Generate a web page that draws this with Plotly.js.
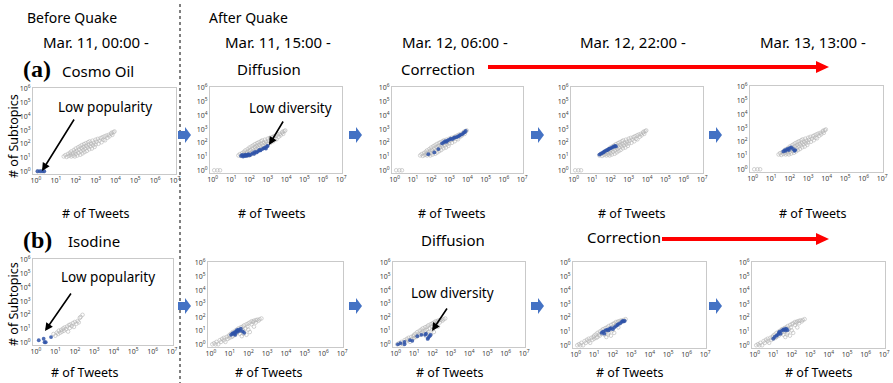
<!DOCTYPE html>
<html>
<head>
<meta charset="utf-8">
<script src="https://cdn.plot.ly/plotly-3.0.1.min.js"></script>
<style>html,body{margin:0;padding:0;background:#fff;}#chart{width:893px;height:383px;}</style>
</head>
<body>
<div id="chart"></div>
<script>
// ---------------- DATA ----------------
const tickValsX = [1, 10, 100, 1000, 10000, 100000, 1000000, 10000000];
const tickTextX = ['10<sup>0</sup>','10<sup>1</sup>','10<sup>2</sup>','10<sup>3</sup>','10<sup>4</sup>','10<sup>5</sup>','10<sup>6</sup>','10<sup>7</sup>'];
const tickValsY = [1, 10, 100, 1000, 10000, 100000, 1000000];
const tickTextY = ['10<sup>0</sup>','10<sup>1</sup>','10<sup>2</sup>','10<sup>3</sup>','10<sup>4</sup>','10<sup>5</sup>','10<sup>6</sup>'];

const periods = ['Mar. 11, 00:00 -','Mar. 11, 15:00 -','Mar. 12, 06:00 -','Mar. 12, 22:00 -','Mar. 13, 13:00 -'];

// (a) Cosmo Oil: all topics (gray)
const cosmoGrayTweets = [1.2,1.8,2.5,25,30,35,40,45,50,55,60,60,70,75,80,90,90,100,100,110,120,130,140,150,160,170,180,200,200,220,240,250,260,280,300,320,340,360,400,420,450,480,500,550,600,650,700,750,800,900,1000,1000,1100,1300,1400,1600,1800,2000,2200,2500,2800,3000,3500,4000,4500,5000,6000,6500,7000,8000,9000];
const cosmoGraySubtopics = [1,1,1,12,15,11,18,13,22,16,12,28,20,14,35,25,12,45,18,30,14,55,22,38,65,16,28,48,80,20,35,60,95,25,45,110,70,30,55,130,85,40,150,65,100,45,170,80,120,60,200,90,140,230,100,170,260,130,300,200,350,180,400,280,450,350,550,650,450,700,800];
// (a) highlighted (blue) per period
const cosmoBlueTweets0 = [1.2,1.6,2.1,2.6];
const cosmoBlueSubtopics0 = [1,1,1,1];
const cosmoBlueTweets1 = [35,40,45,50,55,60,65,70,80,90,100,120,150,180,200,250,300,350,400,500,600,700,800,900,1000];
const cosmoBlueSubtopics1 = [11,13,10,12,11,14,12,11,13,15,12,14,18,16,22,20,25,30,28,35,40,45,38,55,60];
const cosmoBlueTweets2 = [70,150,250,400,500,600,700,800,1000,1200,1500,1800,2000,2500,3000,3500,4000,5000,6000,7000,8000];
const cosmoBlueSubtopics2 = [15,20,35,90,110,130,120,150,170,200,190,230,250,260,300,320,380,420,520,600,750];
const cosmoBlueTweets3 = [25,30,35,40,45,50,60,70,80,90,100,120,140,160,180,200];
const cosmoBlueSubtopics3 = [14,16,18,20,22,25,28,30,35,38,40,45,50,55,60,55];
const cosmoBlueTweets4 = [45,55,60,70,80,90,100,120,150,180,200];
const cosmoBlueSubtopics4 = [20,25,22,28,30,25,35,40,30,22,25];

// (b) Isodine: before quake (gray)
const isoGrayTweets0 = [8,10,12,14,15,18,20,22,25,28,30,35,40,45,50,55,60,70,80,90,100,120,140,160,180,200,250];
const isoGraySubtopics0 = [4,3,5,4,7,5,8,6,10,7,12,9,14,6,18,11,20,15,25,13,30,22,35,28,60,70,100];
// (b) Isodine: after quake (gray)
const isoGrayTweets = [1.2,1.8,1.5,2,2.5,3,3.5,4,5,5,6,7,8,9,10,10,12,13,15,15,18,20,20,25,25,30,30,35,40,40,45,50,50,55,60,60,70,80,80,90,100,100,120,120,150,150,180,200,200,250,250,300,350,400,500];
const isoGraySubtopics = [1,1,1.2,1.5,1,2,1.5,2.5,2,3,1.5,3.5,2.5,4,3,5,6,3.5,8,4,6,10,5,12,7,9,15,6,18,10,4,20,12,6,25,8,15,30,5,20,35,12,40,8,30,50,45,55,20,60,40,65,55,70,80];
// (b) highlighted (blue) per period
const isoBlueTweets0 = [1.4,2.5,6,2.8,3.2];
const isoBlueSubtopics0 = [1.4,1.8,2.4,1,1];
const isoBlueTweets1 = [12,14,16,18,20,22,25,28,30,35,40,50,60,20,25];
const isoBlueSubtopics1 = [5,6,7,6,8,9,8,10,12,10,14,9,7,5,11];
const isoBlueTweets2 = [1.3,1.8,3,3,6,8,15,25,40,45,60,70,80,55];
const isoBlueSubtopics2 = [1,1.2,1,1.5,2,1.8,4,5,5,6,3,4,5,2.5];
const isoBlueTweets3 = [25,30,35,40,50,60,70,80,100,120,150,180,200,250,300,350,400,450];
const isoBlueSubtopics3 = [8,10,7,12,14,12,16,18,15,20,25,30,35,40,50,60,55,60];
const isoBlueTweets4 = [10,12,15,18,20,22,25,30,35,40,45,50,60];
const isoBlueSubtopics4 = [3,4,5,6,8,10,7,12,14,15,12,16,13];

// ---------------- LAYOUT ----------------
const W = 893, H = 383;
const px = x => x / W;
const py = y => 1 - y / H;

const panels = [
  {box:[33,176,88,174], gx:cosmoGrayTweets, gy:cosmoGraySubtopics, bx:cosmoBlueTweets0, by:cosmoBlueSubtopics0},
  {box:[210,342,87,173], gx:cosmoGrayTweets, gy:cosmoGraySubtopics, bx:cosmoBlueTweets1, by:cosmoBlueSubtopics1},
  {box:[392,523,87,173], gx:cosmoGrayTweets, gy:cosmoGraySubtopics, bx:cosmoBlueTweets2, by:cosmoBlueSubtopics2},
  {box:[571,703,87,173], gx:cosmoGrayTweets, gy:cosmoGraySubtopics, bx:cosmoBlueTweets3, by:cosmoBlueSubtopics3},
  {box:[750,883,86,172], gx:cosmoGrayTweets, gy:cosmoGraySubtopics, bx:cosmoBlueTweets4, by:cosmoBlueSubtopics4},
  {box:[33,173,259,345], gx:isoGrayTweets0, gy:isoGraySubtopics0, bx:isoBlueTweets0, by:isoBlueSubtopics0},
  {box:[208,343,262,347], gx:isoGrayTweets, gy:isoGraySubtopics, bx:isoBlueTweets1, by:isoBlueSubtopics1},
  {box:[393,525,262,347], gx:isoGrayTweets, gy:isoGraySubtopics, bx:isoBlueTweets2, by:isoBlueSubtopics2},
  {box:[573,706,262,348], gx:isoGrayTweets, gy:isoGraySubtopics, bx:isoBlueTweets3, by:isoBlueSubtopics3},
  {box:[752,885,262,348], gx:isoGrayTweets, gy:isoGraySubtopics, bx:isoBlueTweets4, by:isoBlueSubtopics4}
];

const FONT = '"Noto Sans", "Noto Sans CJK JP", sans-serif';
const traces = [];
const layout = {
  width: W, height: H,
  margin: {l:0, r:0, t:0, b:0},
  paper_bgcolor: '#fff', plot_bgcolor: '#fff',
  showlegend: false,
  font: {family: FONT, color: '#000'},
  annotations: [], shapes: []
};

panels.forEach((p, i) => {
  const n = i === 0 ? '' : String(i + 1);
  const [l, r, t, b] = p.box;
  traces.push({
    x: p.gx, y: p.gy, xaxis: 'x' + n, yaxis: 'y' + n, type: 'scatter', mode: 'markers',
    marker: {symbol: 'circle-open', size: 3.6, color: '#b4b4b4', line: {width: 0.6}},
    hoverinfo: 'skip'
  });
  traces.push({
    x: p.bx, y: p.by, xaxis: 'x' + n, yaxis: 'y' + n, type: 'scatter', mode: 'markers',
    marker: {symbol: 'circle', size: 3.8, color: '#2e52a8', opacity: 0.85},
    hoverinfo: 'skip'
  });
  const common = {
    type: 'log', showline: true, mirror: true, linecolor: '#c9c9c9', linewidth: 1,
    showgrid: false, zeroline: false, ticks: '', tickfont: {size: 7, color: '#404040', family: FONT},
    fixedrange: true
  };
  layout['xaxis' + n] = Object.assign({}, common, {
    domain: [px(l), px(r)], range: [-0.15, 7.05], anchor: 'y' + n,
    tickvals: tickValsX, ticktext: tickTextX
  });
  layout['yaxis' + n] = Object.assign({}, common, {
    domain: [py(b), py(t)], range: [-0.2, 6.07], anchor: 'x' + n,
    tickvals: tickValsY, ticktext: tickTextY
  });
});

function text(t, x, y, size, extra) {
  layout.annotations.push(Object.assign({
    text: t, x: px(x), y: py(y), xref: 'paper', yref: 'paper',
    xanchor: 'center', yanchor: 'middle', showarrow: false,
    font: {size: size, family: FONT, color: '#000'}
  }, extra || {}));
}
function arrow(x0, y0, x1, y1) {
  layout.annotations.push({
    x: px(x1), y: py(y1), xref: 'paper', yref: 'paper', text: '',
    showarrow: true, ax: x0 - x1, ay: y0 - y1,
    arrowhead: 2, arrowsize: 1, arrowwidth: 1.6, arrowcolor: '#000'
  });
}

// Headers
text('Before Quake', 72, 17, 14);
text('After Quake', 248, 17, 14);
const periodX = [96, 278, 455, 633, 813];
periods.forEach((s, i) => text(s, periodX[i], 42, 15));

// Row labels
const serif = {size: 24, family: '"Liberation Serif", "DejaVu Serif", serif', color: '#000'};
text('<b>(a)</b>', 37, 69, 24, {font: serif});
text('Cosmo Oil', 98, 71, 15);
text('Diffusion', 269, 69, 15);
text('Correction', 438, 69, 15);
text('<b>(b)</b>', 37, 240, 24, {font: serif});
text('Isodine', 94, 241, 15);
text('Diffusion', 453, 240, 15);
text('Correction', 624, 237, 15);

// Inside-panel notes
text('Low popularity', 105, 107, 13.5);
arrow(75, 118, 42, 171);
text('Low diversity', 290, 108, 13.5);
arrow(284, 120, 269, 145);
text('Low popularity', 108, 277, 13.5);
arrow(72, 292, 45, 331);
text('Low diversity', 452, 293, 13.5);
arrow(448, 307, 432, 331);

// Axis titles
const tweetsXa = [96, 272, 452, 632, 813];
const tweetsXb = [85, 269, 450, 630, 819];
tweetsXa.forEach(x => text('# of Tweets', x, 213, 12.5));
tweetsXb.forEach(x => text('# of Tweets', x, 372, 12.5));
text('# of Subtopics', 13, 136, 12.5, {textangle: -90});
text('# of Subtopics', 13, 304, 12.5, {textangle: -90});

// Dashed divider
layout.shapes.push({type: 'line', xref: 'paper', yref: 'paper', x0: px(180), x1: px(180), y0: py(4), y1: py(383),
  line: {color: '#000', width: 1, dash: 'dot'}});

// Red arrows
function redArrow(x0, x1, y) {
  layout.shapes.push({type: 'line', xref: 'paper', yref: 'paper', x0: px(x0), x1: px(x1 - 12), y0: py(y), y1: py(y),
    line: {color: '#ff0000', width: 4}});
  layout.shapes.push({type: 'path', xref: 'paper', yref: 'paper',
    path: `M ${px(x1 - 13)} ${py(y - 6)} L ${px(x1)} ${py(y)} L ${px(x1 - 13)} ${py(y + 6)} Z`,
    fillcolor: '#ff0000', line: {width: 0}});
}
redArrow(488, 829, 67);
redArrow(662, 829, 239);

// Blue block arrows
function blockArrow(x0, yc) {
  const p = [[x0, yc - 4], [x0 + 7, yc - 4], [x0 + 7, yc - 8], [x0 + 13, yc], [x0 + 7, yc + 8], [x0 + 7, yc + 4], [x0, yc + 4]];
  const d = 'M ' + p.map(q => px(q[0]) + ' ' + py(q[1])).join(' L ') + ' Z';
  layout.shapes.push({type: 'path', xref: 'paper', yref: 'paper', path: d, fillcolor: '#4472c4', line: {width: 0}});
}
[178, 349, 531, 709].forEach(x => { blockArrow(x, 135); blockArrow(x, 306); });

Plotly.newPlot('chart', traces, layout, {staticPlot: true, displayModeBar: false});
</script>
</body>
</html>
